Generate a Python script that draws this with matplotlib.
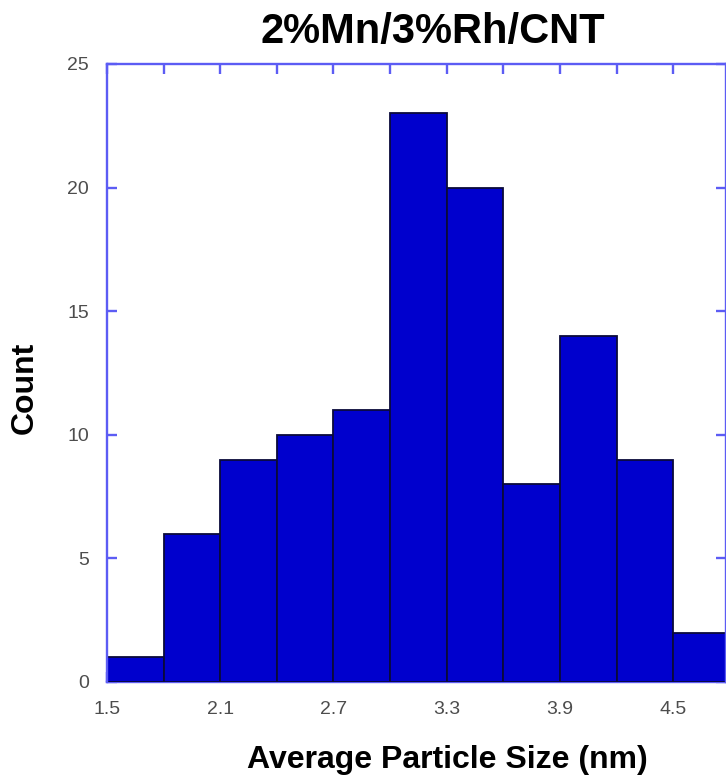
import numpy as np
import matplotlib
matplotlib.use("Agg")
import matplotlib.pyplot as plt
from matplotlib.ticker import MultipleLocator

# Particle size histogram (bin width 0.3 nm)
bin_starts = [1.5, 1.8, 2.1, 2.4, 2.7, 3.0, 3.3, 3.6, 3.9, 4.2, 4.5]
counts = [1, 6, 9, 10, 11, 23, 20, 8, 14, 9, 2]
bin_width = 0.3
x_tick_values = [1.5, 2.1, 2.7, 3.3, 3.9, 4.5]
x_tick_labels = ["1.5", "2.1", "2.7", "3.3", "3.9", "4.5"]
y_tick_values = [0, 5, 10, 15, 20, 25]

title = "2%Mn/3%Rh/CNT"
x_label = "Average Particle Size (nm)"
y_label = "Count"

plt.rcParams["font.family"] = ["Liberation Sans", "DejaVu Sans"]

W, H = 726, 778
fig = plt.figure(figsize=(W / 100, H / 100), dpi=100)
ax = fig.add_axes([107 / W, (H - 682) / H, (726 - 107) / W, (682 - 64) / H])

spine_color = "#5c5cf4"
bar_color = "#0000cd"
edge_color = "#0a0a3a"

ax.bar(bin_starts, counts, width=bin_width, align="edge",
       color=bar_color, edgecolor=edge_color, linewidth=1.3, zorder=2)

ax.set_xlim(1.5, 4.78)
ax.set_ylim(0, 25)

ax.set_xticks(x_tick_values)
ax.set_xticklabels(x_tick_labels)
ax.xaxis.set_minor_locator(MultipleLocator(0.3))
ax.set_yticks(y_tick_values)
ax.set_yticklabels([str(v) for v in y_tick_values])

ax.set_axisbelow(True)
for name, sp in ax.spines.items():
    sp.set_color(spine_color)
    sp.set_linewidth(1.7)
ax.spines["bottom"].set_zorder(0.5)

ax.tick_params(axis="both", which="both", direction="in",
               color=spine_color, width=1.7, length=7,
               top=True, right=True, labelcolor="#4d4d4d",
               labelsize=14)
ax.tick_params(axis="x", which="both", pad=14)
ax.tick_params(axis="y", which="both", pad=13)

fig.text(433 / W, 1 - 32 / H, title, ha="center", va="center",
         fontsize=30, fontweight="bold", color="black")
fig.text(447 / W, 1 - 760 / H, x_label, ha="center", va="center",
         fontsize=23, fontweight="bold", color="black")
fig.text(25 / W, 1 - 388 / H, y_label, ha="center", va="center",
         rotation=90, fontsize=23, fontweight="bold", color="black")

fig.savefig("out.png", dpi=100, facecolor="white")
